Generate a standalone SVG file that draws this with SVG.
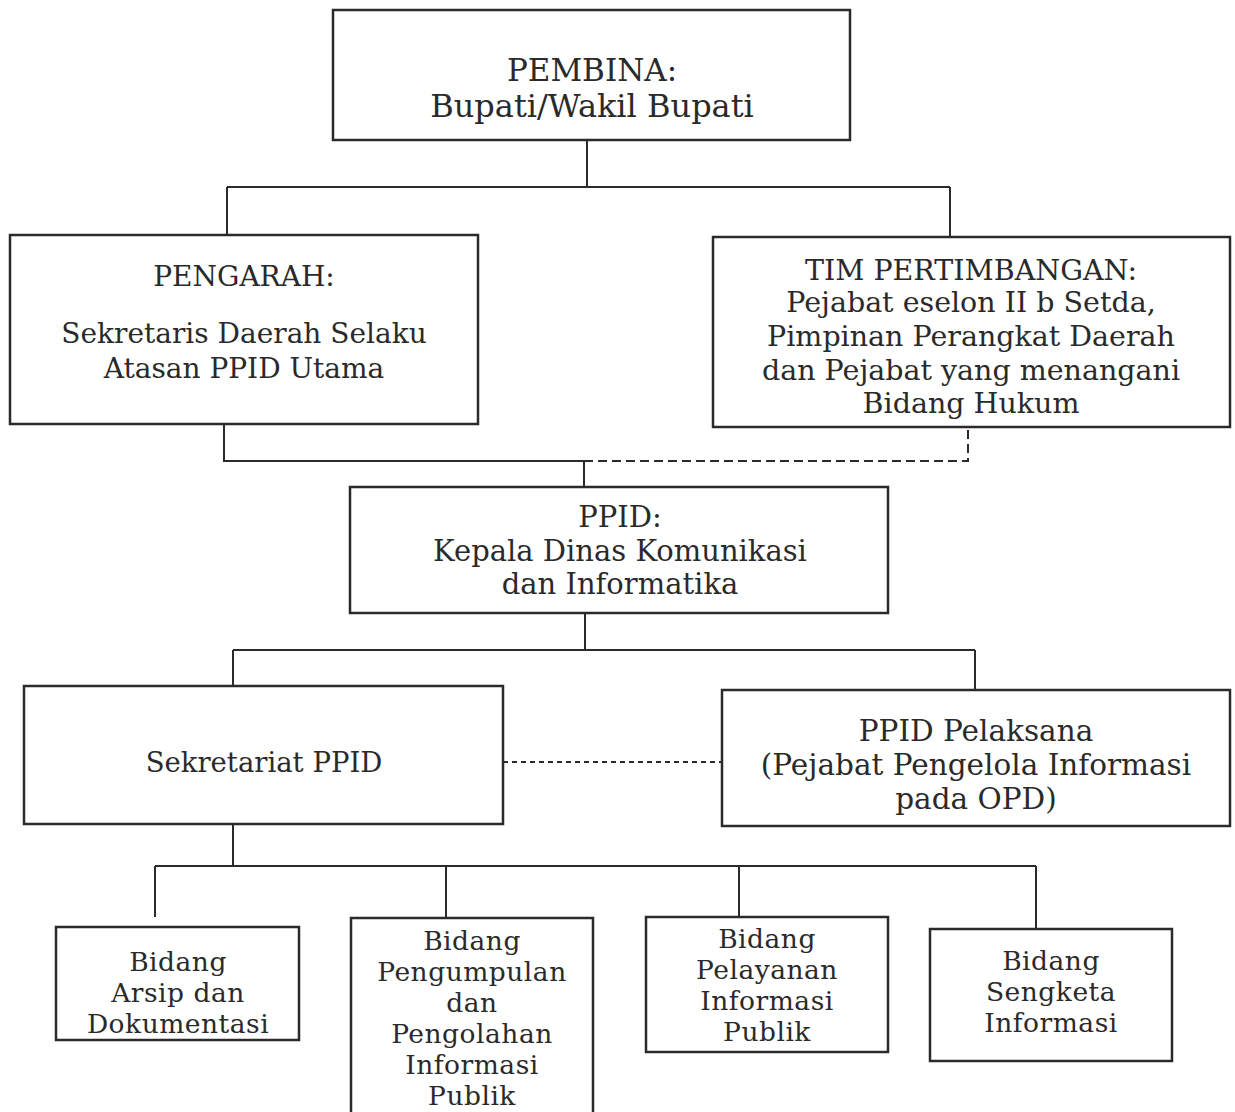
<svg xmlns="http://www.w3.org/2000/svg" width="1235" height="1112" viewBox="0 0 1235 1112">
<style>
.box{fill:#fff;stroke:#2a2a2a;stroke-width:2.5}
.t{font-family:"DejaVu Serif","Liberation Serif",serif;font-size:28.5px;fill:#2a2a2a;text-anchor:middle}
.s{font-family:"DejaVu Serif","Liberation Serif",serif;font-size:26.5px;letter-spacing:0.5px;fill:#2a2a2a;text-anchor:middle}
.ln{stroke:#2a2a2a;stroke-width:2;fill:none}
.dash{stroke:#2a2a2a;stroke-width:2;fill:none;stroke-dasharray:9,5}
.dot{stroke:#2a2a2a;stroke-width:2;fill:none;stroke-dasharray:5,4}
</style>
<rect width="1235" height="1112" fill="#fff"/>
<g id="connectors">
<path class="ln" d="M587 140V187M227 187H950M227 187V235M950 187V238"/>
<path class="ln" d="M224 424V461H584M584 461V487"/>
<path class="dash" d="M584 461H968V427"/>
<path class="ln" d="M585 613V650M233 650H975M233 650V686M975 650V690"/>
<path class="dot" d="M503 762H722"/>
<path class="ln" d="M233 824V866M155 866H1036M155 866V917M446 866V918M739 866V917M1036 866V929"/>
</g>
<g id="pembina">
<rect class="box" x="333" y="10" width="517" height="130"/>
<text class="t" x="592" y="81" style="font-size:31px">PEMBINA:</text>
<text class="t" x="592" y="117" style="font-size:32px">Bupati/Wakil Bupati</text>
</g>
<g id="pengarah">
<rect class="box" x="10" y="235" width="468" height="189"/>
<text class="t" x="244" y="286" style="font-size:28px">PENGARAH:</text>
<text class="t" x="244" y="343" style="font-size:28px">Sekretaris Daerah Selaku</text>
<text class="t" x="244" y="378" style="font-size:28px">Atasan PPID Utama</text>
</g>
<g id="tim">
<rect class="box" x="713" y="237" width="517" height="190"/>
<text class="t" x="971" y="280">TIM PERTIMBANGAN:</text>
<text class="t" x="971" y="312">Pejabat eselon II b Setda,</text>
<text class="t" x="971" y="346">Pimpinan Perangkat Daerah</text>
<text class="t" x="971" y="380">dan Pejabat yang menangani</text>
<text class="t" x="971" y="413">Bidang Hukum</text>
</g>
<g id="ppid">
<rect class="box" x="350" y="487" width="538" height="126"/>
<text class="t" x="620" y="527" style="font-size:29px">PPID:</text>
<text class="t" x="620" y="561" style="font-size:29px">Kepala Dinas Komunikasi</text>
<text class="t" x="620" y="594" style="font-size:29px">dan Informatika</text>
</g>
<g id="sekretariat">
<rect class="box" x="24" y="686" width="479" height="138"/>
<text class="t" x="264" y="772" style="font-size:27.5px">Sekretariat PPID</text>
</g>
<g id="pelaksana">
<rect class="box" x="722" y="690" width="508" height="136"/>
<text class="t" x="976" y="741" style="font-size:29.5px">PPID Pelaksana</text>
<text class="t" x="976" y="775" style="font-size:29.5px">(Pejabat Pengelola Informasi</text>
<text class="t" x="976" y="809" style="font-size:29.5px">pada OPD)</text>
</g>
<g id="arsip">
<rect class="box" x="56" y="927" width="243" height="113"/>
<text class="s" x="178" y="971">Bidang</text>
<text class="s" x="178" y="1002">Arsip dan</text>
<text class="s" x="178" y="1033">Dokumentasi</text>
</g>
<g id="pengumpulan">
<rect class="box" x="351" y="918" width="242" height="210"/>
<text class="s" x="472" y="950">Bidang</text>
<text class="s" x="472" y="981">Pengumpulan</text>
<text class="s" x="472" y="1012">dan</text>
<text class="s" x="472" y="1043">Pengolahan</text>
<text class="s" x="472" y="1074">Informasi</text>
<text class="s" x="472" y="1105">Publik</text>
</g>
<g id="pelayanan">
<rect class="box" x="646" y="917" width="242" height="135"/>
<text class="s" x="767" y="948">Bidang</text>
<text class="s" x="767" y="979">Pelayanan</text>
<text class="s" x="767" y="1010">Informasi</text>
<text class="s" x="767" y="1041">Publik</text>
</g>
<g id="sengketa">
<rect class="box" x="930" y="929" width="242" height="132"/>
<text class="s" x="1051" y="970">Bidang</text>
<text class="s" x="1051" y="1001">Sengketa</text>
<text class="s" x="1051" y="1032">Informasi</text>
</g>
</svg>
